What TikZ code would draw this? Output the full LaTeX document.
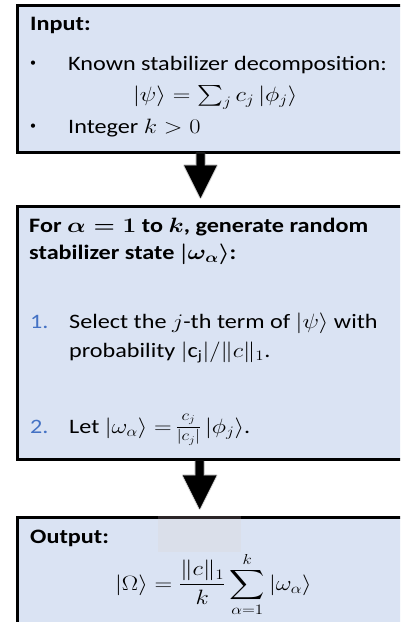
\documentclass[tikz,border=0pt]{standalone}
\usepackage{amsmath}
\usepackage{graphicx}
\usepackage{fontspec}
\setmainfont{Carlito}
\usetikzlibrary{calc}
\definecolor{boxfill}{HTML}{DAE3F3}
\definecolor{numblue}{HTML}{4472C4}
\definecolor{patch}{HTML}{DADFEA}
\definecolor{patchline}{HTML}{2B2527}
\newcommand{\hstretch}[1]{\scalebox{1.18}[1]{#1}}
\tikzset{
  box/.style={draw=black, line width=3pt, fill=boxfill, rectangle, inner sep=0pt},
  txt/.style={anchor=base west, inner sep=0pt, font=\fontsize{20.5}{24}\selectfont},
  btxt/.style={txt, font=\fontsize{20.5}{24}\selectfont\bfseries\mathversion{bold}},
  num/.style={txt, text=numblue},
  bul/.style={anchor=base west, inner sep=0pt, font=\fontsize{12}{14}\selectfont},
  blockarrow/.style={fill=black, draw=black, line width=0.4pt},
  arrowshadow/.style={draw=black!55, line width=2.5pt, opacity=0.35, line join=round}
}
\begin{document}
\begin{tikzpicture}[x=1pt,y=-1pt]
\useasboundingbox (0,0) rectangle (400,622);
\clip (0,0) rectangle (400,622);
% boxes
\node[box, minimum width=412pt, minimum height=146.5pt] (inbox) at (223.8,78.75) {};
\node[box, minimum width=412pt, minimum height=253pt] (loopbox) at (223.8,332.5) {};
\node[box, minimum width=412pt, minimum height=107pt] (outbox) at (223.8,570.5) {};
% artifact patch on output box
\fill[patch] (158,518.5) rectangle (241,552);
\draw[patchline, line width=3pt] (158,517) -- (241,517);
\coordinate (axisA) at (200.5,0);
\coordinate (axisB) at (199.7,0);
% arrows
\path[arrowshadow] (inbox.south -| axisA) ++(-4,0) -- ++(8,0) -- ++(0,12) -- ++(12,0) -- ++(-16,32) -- ++(-16,-32) -- ++(12,0) -- cycle;
\fill[blockarrow] (inbox.south -| axisA) ++(-4,0) -- ++(8,0) -- ++(0,12) -- ++(12,0) -- ++(-16,32) -- ++(-16,-32) -- ++(12,0) -- cycle;
\path[arrowshadow] (loopbox.south -| axisB) ++(-4,1) -- ++(8,0) -- ++(0,14) -- ++(12.5,0) -- ++(-16.5,33) -- ++(-16.5,-33) -- ++(12.5,0) -- cycle;
\fill[blockarrow] (loopbox.south -| axisB) ++(-4,0) -- ++(8,0) -- ++(0,15) -- ++(12.5,0) -- ++(-16.5,33) -- ++(-16.5,-33) -- ++(12.5,0) -- cycle;
% input box text
\node[btxt] (inlabel) at (30,30) {\hstretch{Input:}};
\node[bul] (b1) at (30,66) {\textbullet};
\node[txt] (known) at (68,70) {\hstretch{Known stabilizer decomposition:}};
\node[txt] (psi) at (133,101) {\hstretch{$|\psi\rangle = \textstyle\sum_j c_j\,|\phi_j\rangle$}};
\node[bul] (b2) at (30,129) {\textbullet};
\node[txt] (intk) at (68,133) {\hstretch{Integer $k > 0$}};
% loop box text
\node[btxt] (forl) at (29,232) {\hstretch{For $\alpha = 1$ to $k$, generate random}};
\node[btxt] (stab) at (29,259) {\hstretch{stabilizer state $|\omega_\alpha\rangle$:}};
\node[num] (n1) at (30,328) {\hstretch{1.}};
\node[txt] (sel) at (69,328) {\hstretch{Select the $j$-th term of $|\psi\rangle$ with}};
\node[txt] (prob) at (69,357) {\hstretch{probability $|\text{c}_\text{j}|/\|c\|_1$.}};
\node[num] (n2) at (30,433) {\hstretch{2.}};
\node[txt] (let) at (69,433) {\hstretch{Let $|\omega_\alpha\rangle = $\,\raisebox{0.25ex}{\scalebox{0.72}{$\displaystyle\frac{c_j}{|c_j|}$}}\,$|\phi_j\rangle$.}};
% output box text
\node[btxt] (outlabel) at (30,543) {\hstretch{Output:}};
\node[txt] (omega) at (115,590) {\hstretch{$\displaystyle |\Omega\rangle = \frac{\|c\|_1}{k}\sum_{\alpha=1}^{k}|\omega_\alpha\rangle$}};
\end{tikzpicture}
\end{document}
